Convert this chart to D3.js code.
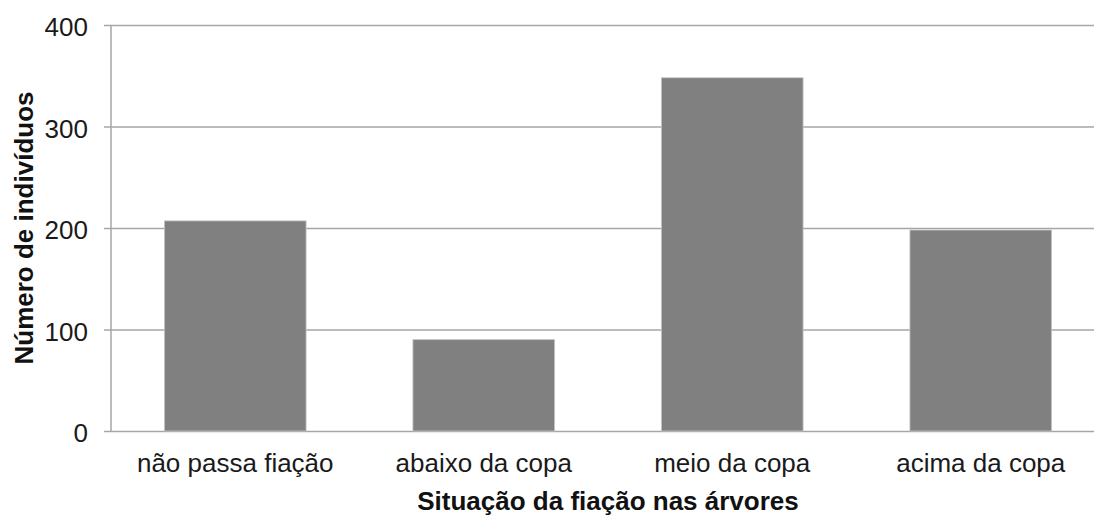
<!DOCTYPE html>
<html>
<head>
<meta charset="utf-8">
<script src="https://cdn.jsdelivr.net/npm/d3@7"></script>
<style>
  html, body { margin: 0; padding: 0; background: #fff; }
  svg { display: block; font-family: "Liberation Sans", Arial, Helvetica, sans-serif; }
</style>
</head>
<body>
<svg id="chart" width="1094" height="517"></svg>
<script>
// Number of trees by wiring position relative to the crown
const categories = ["não passa fiação", "abaixo da copa", "meio da copa", "acima da copa"];
const counts = [207, 90, 348, 198];
const yTicks = [0, 100, 200, 300, 400];

const svg = d3.select("#chart");
const plotLeft = 111, plotRight = 1105, plotTop = 25, plotBottom = 431;

const x = d3.scaleBand().domain(categories).range([plotLeft, plotRight]).paddingInner(0.43).paddingOuter(0.215);
const y = d3.scaleLinear().domain([0, 400]).range([plotBottom, plotTop]);

const gridColor = "#a6a6a6";
const fontSize = 26;

// horizontal gridlines with small outward ticks
svg.append("g")
  .attr("transform", `translate(${plotLeft},0)`)
  .call(d3.axisLeft(y).tickValues(yTicks).tickSize(-(plotRight - plotLeft)).tickSizeOuter(0).tickPadding(0).tickFormat(""))
  .call(g => g.select(".domain").remove())
  .call(g => g.selectAll(".tick line").attr("stroke", gridColor).attr("stroke-width", 1.5).attr("x1", -7));

// y tick labels
svg.append("g")
  .selectAll("text")
  .data(yTicks)
  .join("text")
  .attr("x", 88)
  .attr("y", d => y(d) + 11)
  .attr("text-anchor", "end")
  .attr("font-size", fontSize)
  .attr("fill", "#1a1a1a")
  .text(d => d);

// bars
svg.append("g")
  .selectAll("rect")
  .data(counts)
  .join("rect")
  .attr("x", (d, i) => x(categories[i]))
  .attr("y", d => y(d))
  .attr("width", x.bandwidth())
  .attr("height", d => y(0) - y(d))
  .attr("fill", "#808080")
  .attr("stroke", "#c4c4c4")
  .attr("stroke-width", 0.8);

// vertical axis line
svg.append("line")
  .attr("x1", plotLeft).attr("x2", plotLeft)
  .attr("y1", y(400)).attr("y2", y(0))
  .attr("stroke", gridColor).attr("stroke-width", 1.5);

// category labels
svg.append("g")
  .selectAll("text")
  .data(categories)
  .join("text")
  .attr("x", d => x(d) + x.bandwidth() / 2)
  .attr("y", 472)
  .attr("text-anchor", "middle")
  .attr("font-size", fontSize)
  .attr("fill", "#1a1a1a")
  .text(d => d);

// axis titles
svg.append("text")
  .attr("x", (plotLeft + plotRight) / 2)
  .attr("y", 510)
  .attr("text-anchor", "middle")
  .attr("font-size", fontSize)
  .attr("font-weight", "bold")
  .attr("fill", "#111")
  .text("Situação da fiação nas árvores");

svg.append("text")
  .attr("transform", `translate(33,${(plotTop + plotBottom) / 2}) rotate(-90)`)
  .attr("text-anchor", "middle")
  .attr("font-size", fontSize)
  .attr("font-weight", "bold")
  .attr("fill", "#111")
  .text("Número de indivíduos");
</script>
</body>
</html>
